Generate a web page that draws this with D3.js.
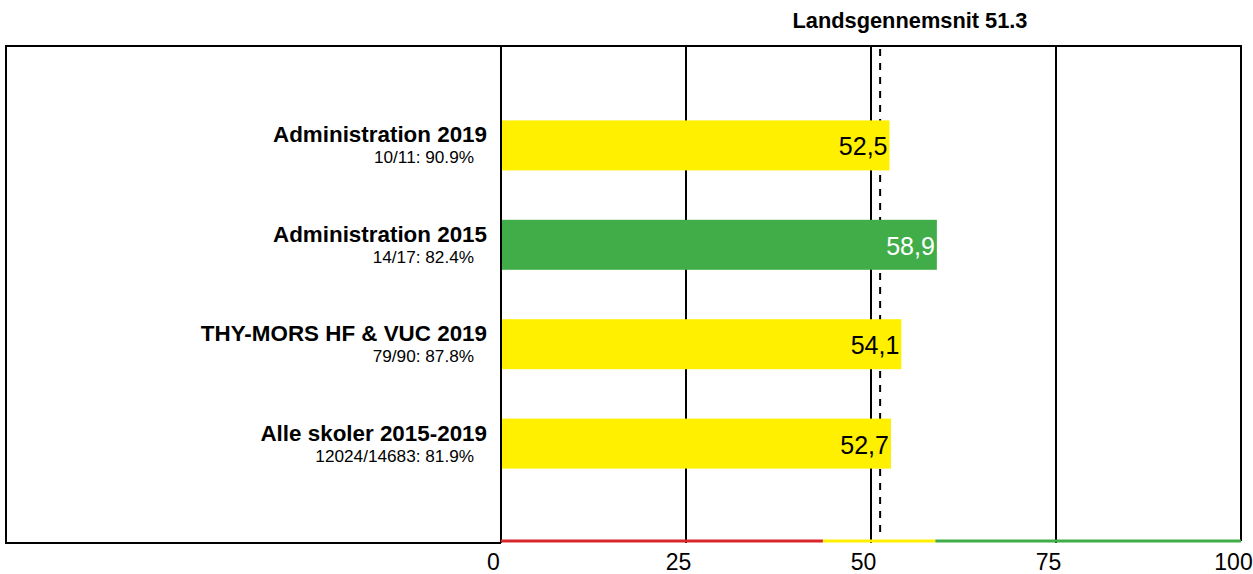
<!DOCTYPE html>
<html><head><meta charset="utf-8">
<script src="https://cdn.jsdelivr.net/npm/d3@7"></script>
<style>body{margin:0;background:#fff}svg{display:block;font-family:"Liberation Sans",Arial,sans-serif}</style>
</head><body><svg id="c" width="1253" height="574"></svg>
<script>
const categories = ["Administration 2019","Administration 2015","THY-MORS HF & VUC 2019","Alle skoler 2015-2019"];
const subLabels = ["10/11: 90.9%","14/17: 82.4%","79/90: 87.8%","12024/14683: 81.9%"];
const values = [52.5, 58.9, 54.1, 52.7];
const barColors = ["#FFF000","#41AD49","#FFF000","#FFF000"];
const valueLabels = ["52,5","58,9","54,1","52,7"];
const nationalAvg = 51.3;
const titleText = "Landsgennemsnit 51.3";
const tickValues = [0,25,50,75,100];
const bandStops = [0, 43.5, 58.7, 100];
const bandColors = ["#D9262A","#FFF000","#41AD49"];

const svg = d3.select("#c");
const box = {l:6, r:1241, t:46, b:543};
const x = d3.scaleLinear().domain([0,100]).range([501,1241]);
const y = d3.scalePoint().domain(categories).range([box.t, box.b]).padding(1);
const barH = 50;

// gridlines
svg.append("g").selectAll("line").data(tickValues.filter(d=>d<100)).join("line")
  .attr("x1",d=>x(d)).attr("x2",d=>x(d)).attr("y1",box.t).attr("y2",box.b)
  .attr("stroke","#000").attr("stroke-width",2);

// dashed national average (behind bars)
svg.append("line").attr("x1",x(nationalAvg)-0.5).attr("x2",x(nationalAvg)-0.5)
  .attr("y1",box.t+3).attr("y2",box.b-5)
  .attr("stroke","#000").attr("stroke-width",2).attr("stroke-dasharray","7,7");
svg.append("text").attr("x",910).attr("y",28)
  .attr("text-anchor","middle").attr("font-size",21.8).attr("font-weight","bold")
  .text(titleText);

// bars
const g = svg.append("g");
g.selectAll("rect").data(values).join("rect")
  .attr("x",x(0)+1).attr("y",(d,i)=>y(categories[i])-barH/2)
  .attr("width",d=>x(d)-x(0)-1).attr("height",barH)
  .attr("fill",(d,i)=>barColors[i]);
g.selectAll("text.v").data(values).join("text").attr("class","v")
  .attr("x",d=>x(d)-2).attr("y",(d,i)=>y(categories[i])+10)
  .attr("text-anchor","end").attr("font-size",25)
  .attr("fill",(d,i)=>barColors[i]==="#41AD49"?"#fff":"#000")
  .text((d,i)=>valueLabels[i]);

// category labels
svg.append("g").selectAll("text").data(categories).join("text")
  .attr("x",487).attr("y",d=>y(d)-3).attr("text-anchor","end")
  .attr("font-size",22.4).attr("font-weight","bold").text(d=>d);
svg.append("g").selectAll("text").data(subLabels).join("text")
  .attr("x",474).attr("y",(d,i)=>y(categories[i])+18).attr("text-anchor","end")
  .attr("font-size",17.2).text(d=>d);

// border
svg.append("path")
  .attr("d",`M${x(0)},${box.b} H${box.l} V${box.t} H${box.r} V${box.b-2}`)
  .attr("fill","none").attr("stroke","#000").attr("stroke-width",2);

// colored band line on bottom
svg.append("g").selectAll("line").data(bandColors).join("line")
  .attr("x1",(d,i)=>x(bandStops[i])).attr("x2",(d,i)=>x(bandStops[i+1]))
  .attr("y1",box.b-2).attr("y2",box.b-2)
  .attr("stroke",d=>d).attr("stroke-width",3);

// axis labels
const axis = d3.axisBottom(x).tickValues(tickValues).tickSize(0).tickPadding(0);
const ag = svg.append("g").attr("transform",`translate(-8,${box.b})`).call(axis);
ag.select(".domain").remove();
ag.selectAll("text").attr("font-size",23).attr("font-family","Liberation Sans, Arial, sans-serif")
  .attr("fill","#000").attr("dy","0").attr("y",27);
</script></body></html>
